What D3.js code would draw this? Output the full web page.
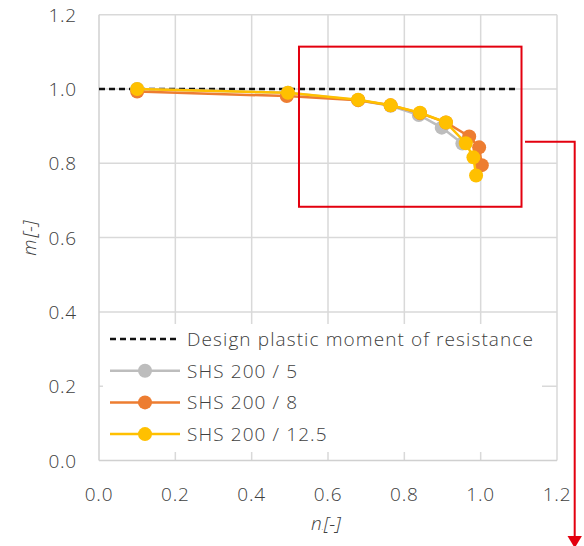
<!DOCTYPE html>
<html>
<head>
<meta charset="utf-8">
<script src="https://cdn.jsdelivr.net/npm/d3@7"></script>
<style>
  body { margin: 0; background: #fff; }
  text { font-family: "Open Sans", sans-serif; font-weight: 300; fill: #404040; }
</style>
</head>
<body>
<div id="chart"></div>
<script>
// values (n = x, m = y)
var seriesNames = ["SHS 200 / 5", "SHS 200 / 8", "SHS 200 / 12.5"];
var seriesColors = ["#bdbdbd", "#ed7d31", "#ffc000"];

var shs5 = [[0.100, 1.000], [0.495, 0.990], [0.679, 0.970], [0.764, 0.955],
            [0.838, 0.930], [0.898, 0.896], [0.952, 0.853]];
var shs8 = [[0.100, 0.993], [0.492, 0.981], [0.679, 0.970], [0.764, 0.956],
            [0.841, 0.935], [0.909, 0.910], [0.970, 0.872], [0.996, 0.843], [1.003, 0.795]];
var shs125 = [[0.100, 1.000], [0.495, 0.990], [0.679, 0.971], [0.764, 0.956],
              [0.841, 0.936], [0.909, 0.910], [0.961, 0.854], [0.981, 0.816], [0.988, 0.767]];

var designName = "Design plastic moment of resistance";
var design = [[0, 1.0], [1.1, 1.0]];

var xTicks = [0, 0.2, 0.4, 0.6, 0.8, 1.0, 1.2];
var yTicks = [0, 0.2, 0.4, 0.6, 0.8, 1.0, 1.2];

// zoom box annotation (in data units)
var zoomBox = {n0: 0.524, n1: 1.107, m0: 0.683, m1: 1.114};

var W = 584, H = 546;
var svg = d3.select("#chart").append("svg").attr("width", W).attr("height", H);

var x = d3.scaleLinear().domain([0, 1.2]).range([99, 557]);
var y = d3.scaleLinear().domain([0, 1.2]).range([460.5, 14.7]);

// gridlines
var g = svg.append("g");
g.selectAll("line.vg").data(xTicks.slice(1)).enter().append("line")
  .attr("x1", d => x(d)).attr("x2", d => x(d))
  .attr("y1", y(1.2)).attr("y2", y(0))
  .attr("stroke", "#d9d9d9").attr("stroke-width", 1.5);
g.selectAll("line.hg").data(yTicks.slice(1)).enter().append("line")
  .attr("x1", x(0)).attr("x2", x(1.2))
  .attr("y1", d => y(d)).attr("y2", d => y(d))
  .attr("stroke", "#d9d9d9").attr("stroke-width", 1.5);
// axis lines
g.append("line").attr("x1", x(0)).attr("x2", x(0)).attr("y1", y(1.2)).attr("y2", y(0))
  .attr("stroke", "#d0d0d0").attr("stroke-width", 1.5);
g.append("line").attr("x1", x(0)).attr("x2", x(1.2)).attr("y1", y(0)).attr("y2", y(0))
  .attr("stroke", "#d0d0d0").attr("stroke-width", 1.5);

// tick labels
svg.selectAll("text.xt").data(xTicks).enter().append("text")
  .attr("x", d => x(d)).attr("y", 500.5)
  .attr("text-anchor", "middle").attr("font-size", 19).attr("letter-spacing", 0.8)
  .text(d => d3.format(".1f")(d));
svg.selectAll("text.yt").data(yTicks).enter().append("text")
  .attr("x", 77).attr("y", d => y(d) + 7)
  .attr("text-anchor", "end").attr("font-size", 19).attr("letter-spacing", 0.8)
  .text(d => d3.format(".1f")(d));

// axis titles
var xt = svg.append("text").attr("x", 326).attr("y", 530)
  .attr("text-anchor", "middle").attr("font-size", 19).attr("font-style", "italic");
xt.append("tspan").text("n");
xt.append("tspan").attr("font-size", 8).text(".");
xt.append("tspan").text("[-]");
var yt = svg.append("text").attr("transform", "translate(36,238) rotate(-90)")
  .attr("text-anchor", "middle").attr("font-size", 19).attr("font-style", "italic");
yt.append("tspan").text("m");
yt.append("tspan").attr("font-size", 8).text(".");
yt.append("tspan").text("[-]");

// design line
var line = d3.line().x(d => x(d[0])).y(d => y(d[1]));
svg.append("path").datum(design).attr("d", line)
  .attr("fill", "none").attr("stroke", "#111").attr("stroke-width", 2.5)
  .attr("stroke-dasharray", "6,4");

// series
var allSeries = [shs5, shs8, shs125];
allSeries.forEach(function(s, i) {
  svg.append("path").datum(s).attr("d", line)
    .attr("fill", "none").attr("stroke", seriesColors[i]).attr("stroke-width", 2.5);
  svg.selectAll("circle.s" + i).data(s).enter().append("circle")
    .attr("cx", d => x(d[0])).attr("cy", d => y(d[1])).attr("r", 7)
    .attr("fill", seriesColors[i]);
});

// legend
var leg = svg.append("g");
leg.append("rect").attr("x", 103).attr("y", 324).attr("width", 439).attr("height", 128)
  .attr("fill", "#fff");
var legRows = [designName].concat(seriesNames);
legRows.forEach(function(name, i) {
  var ly = 339 + i * 31.7;
  var l = leg.append("line").attr("x1", 110).attr("x2", 180).attr("y1", ly).attr("y2", ly)
    .attr("stroke-width", 2.5);
  if (i === 0) {
    l.attr("stroke", "#111").attr("stroke-dasharray", "6,4");
  } else {
    l.attr("stroke", seriesColors[i - 1]);
    leg.append("circle").attr("cx", 145).attr("cy", ly).attr("r", 7).attr("fill", seriesColors[i - 1]);
  }
  leg.append("text").attr("x", 187).attr("y", ly + 7).attr("font-size", 19)
    .attr("letter-spacing", 1.1).text(name);
});

// red zoom box + arrow
var red = "#e3000f";
svg.append("rect")
  .attr("x", x(zoomBox.n0)).attr("y", y(zoomBox.m1))
  .attr("width", x(zoomBox.n1) - x(zoomBox.n0)).attr("height", y(zoomBox.m0) - y(zoomBox.m1))
  .attr("fill", "none").attr("stroke", red).attr("stroke-width", 2);
svg.append("path").attr("d", "M525,141.7 H574.7 V538")
  .attr("fill", "none").attr("stroke", red).attr("stroke-width", 2);
svg.append("path").attr("d", "M567.5,536 L581.9,536 L574.7,548 Z").attr("fill", red);
</script>
</body>
</html>
